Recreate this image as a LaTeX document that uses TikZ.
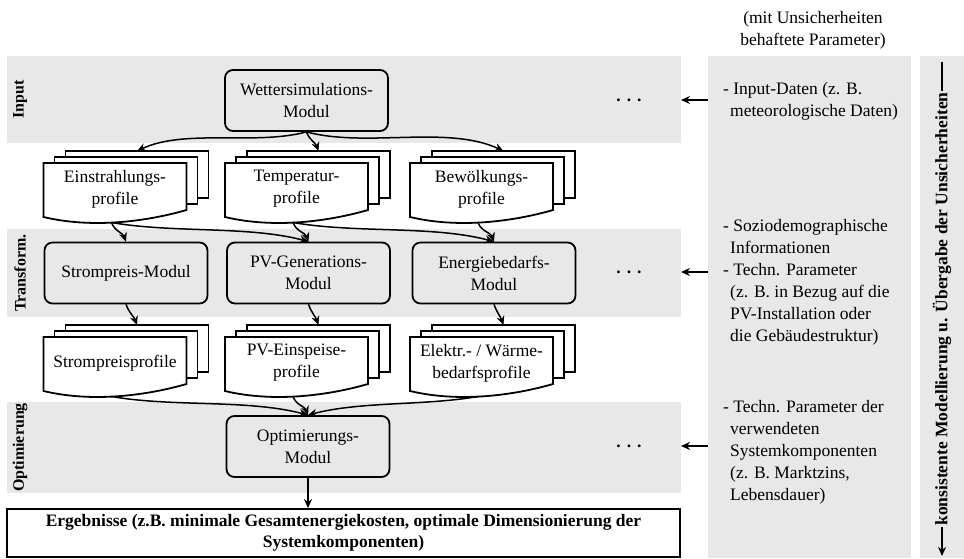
\documentclass[tikz,border=0pt]{standalone}
\usepackage{fontspec}
\setmainfont{Liberation Serif}
\usepackage{tikz}
\usetikzlibrary{arrows.meta,
                positioning}

\definecolor{bandgrau}{RGB}{232,232,232}

\tikzset{
    band/.style={fill=bandgrau, draw=none, inner sep=0pt, outer sep=0pt},
    modul/.style={draw, line width=1.8pt, rounded corners=8pt, fill=bandgrau,
                  minimum width=163pt, minimum height=61pt, align=center, inner sep=0pt},
    blatt/.style={draw, line width=1.8pt, fill=white},
    profiltext/.style={align=center, inner sep=0pt},
    ebene/.style={rotate=90, font=\fontsize{16}{19}\selectfont\bfseries},
    pfeil/.style={-{Stealth[length=9pt,width=8pt]}, line width=1.5pt},
    hinweis/.style={align=left, anchor=west, inner sep=0pt}
}

% indent of continuation lines in the parameter list
\newcommand{\einr}{\hspace*{7pt}}
% widely spaced dots for further modules
\newcommand{\weitere}{\bfseries .\kern6pt.\kern6pt.}

% stack of three profile sheets
% #1 name, #2 #3 top left corner of the front sheet, #4 text
\newcommand{\profilstapel}[4]{%
    \draw[blatt] ({#2+22},{#3-12}) rectangle ({#2+165},{#3+35});
    \draw[blatt] ({#2+11},{#3-6}) rectangle ({#2+154},{#3+41});
    \draw[blatt] (#2,#3) -- ({#2+143},#3) -- ({#2+143},{#3+47})
        .. controls ({#2+105},{#3+58}) and ({#2+50},{#3+66}) .. (#2,{#3+54}) -- cycle;
    \node[profiltext] (#1) at ({#2+71.5},{#3+26}) {#4};
    \coordinate (#1-oben) at ({#2+93.5},{#3-12});
    \coordinate (#1-unten) at ({#2+68},{#3+59.5});
}

\begin{document}
\begin{tikzpicture}[x=1pt, y=-1pt, font=\fontsize{17.5}{22}\selectfont]
    \useasboundingbox (0,0) rectangle (964,559);

    % grey bands of the three levels
    \node[band, minimum width=674pt, minimum height=87pt] (bandinput) at (344,99.5) {};
    \node[band, minimum width=674pt, minimum height=88pt] (bandtrans) at (344,273) {};
    \node[band, minimum width=674pt, minimum height=91pt] (bandopt) at (344,447.5) {};

    % column of the parameters and column of the long arrow
    \node[band, minimum width=203pt, minimum height=502pt] (panel) at (809.5,307) {};
    \node[band, minimum width=44pt, minimum height=502pt] (seite) at (942,307) {};

    % names of the levels
    \node[ebene] (lbinput) at (20,99.5) {Input};
    \node[ebene] (lbtrans) at (20,273) {Transform.};
    \node[ebene] (lbopt) at (20,447.5) {Optimierung};

    % modules
    \node[modul] (wetter) at (306.5,100.5) {Wettersimulations-\\Modul};
    \node[modul] (strom) at (126,273) {Strompreis-Modul};
    \node[modul] (pvgen) at (308.5,273) {PV-Generations-\\Modul};
    \node[modul] (energie) at (494,273) {Energiebedarfs-\\Modul};
    \node[modul] (optim) at (308,446.5) {Optimierungs-\\Modul};

    % profiles
    \profilstapel{einstr}{43.5}{163}{Einstrahlungs-\\profile}
    \profilstapel{temp}{225}{163}{Temperatur-\\profile}
    \profilstapel{bewoelk}{410}{163}{Bewölkungs-\\profile}
    \profilstapel{strpr}{43.5}{337}{Strompreisprofile}
    \profilstapel{pvein}{225}{337}{PV-Einspeise-\\profile}
    \profilstapel{elektr}{410}{337}{Elektr.- / Wärme-\\bedarfsprofile}

    % further modules
    \node (punkte1) at (629,100) {\weitere};
    \node (punkte2) at (629,272) {\weitere};
    \node (punkte3) at (629,446) {\weitere};

    % result
    \node[draw, line width=1.8pt, minimum width=673pt, minimum height=48pt, align=center,
          font=\fontsize{17.5}{21}\selectfont\bfseries, inner sep=0pt] (ergebnis) at (343.5,533)
          {Ergebnisse (z.B. minimale Gesamtenergiekosten, optimale Dimensionierung der\\Systemkomponenten)};

    % weather module to first row of profiles
    \draw[pfeil] (wetter.south) to[out=195, in=25, looseness=0.8] (einstr-oben);
    \draw[pfeil] (wetter.south) to[out=-70, in=110] (temp-oben);
    \draw[pfeil] (wetter.south) to[out=-15, in=155, looseness=0.8] (bewoelk-oben);

    % first row of profiles to the modules
    \draw[pfeil] (einstr-unten) to[out=-70, in=110] (strom.north);
    \draw[pfeil] (einstr-unten) to[out=-10, in=165, looseness=0.8] (pvgen.north);
    \draw[pfeil] (temp-unten) to[out=-70, in=110] (pvgen.north);
    \draw[pfeil] (temp-unten) to[out=-10, in=165, looseness=0.8] (energie.north);
    \draw[pfeil] (bewoelk-unten) to[out=-70, in=110] (energie.north);

    % modules to second row of profiles
    \draw[pfeil] (strom.south) to[out=-70, in=110] (strpr-oben);
    \draw[pfeil] (pvgen.south) to[out=-70, in=110] (pvein-oben);
    \draw[pfeil] (energie.south) to[out=-70, in=110] (elektr-oben);

    % second row of profiles to the optimisation
    \draw[pfeil] (strpr-unten) to[out=-10, in=165, looseness=0.8] (optim.north);
    \draw[pfeil] (pvein-unten) to[out=-70, in=110] (optim.north);
    \draw[pfeil] (elektr-unten) to[out=190, in=15, looseness=0.8] (optim.north);
    \draw[pfeil] (optim.south) -- (optim.south |- ergebnis.north);

    % parameters with uncertainties
    \node[align=center] (kopf) at (813,30) {(mit Unsicherheiten\\behaftete Parameter)};
    \node[hinweis] (par1) at (723,101.5) {- Input-Daten (z. B.\\\einr meteorologische Daten)};
    \node[hinweis] (par2) at (723,282) {- Soziodemographische\\\einr Informationen\\- Techn. Parameter\\\einr (z. B. in Bezug auf die\\\einr PV-Installation oder\\\einr die Gebäudestruktur)};
    \node[hinweis] (par3) at (723,452) {- Techn. Parameter der\\\einr verwendeten\\\einr Systemkomponenten\\\einr (z. B. Marktzins,\\\einr Lebensdauer)};

    \draw[pfeil] (panel.west |- punkte1) -- (bandinput.east |- punkte1);
    \draw[pfeil] (panel.west |- punkte2) -- (bandtrans.east |- punkte2);
    \draw[pfeil] (panel.west |- punkte3) -- (bandopt.east |- punkte3);

    % long arrow
    \coordinate (kette-oben) at (942,62);
    \coordinate (kette-unten) at (942,556);
    \draw[pfeil, line width=2pt] (kette-oben) -- node[fill=bandgrau, rotate=90, inner sep=1pt,
          font=\fontsize{17.5}{22}\selectfont\bfseries] (kette)
          {konsistente Modellierung u. Übergabe der Unsicherheiten} (kette-unten);
\end{tikzpicture}
\end{document}
